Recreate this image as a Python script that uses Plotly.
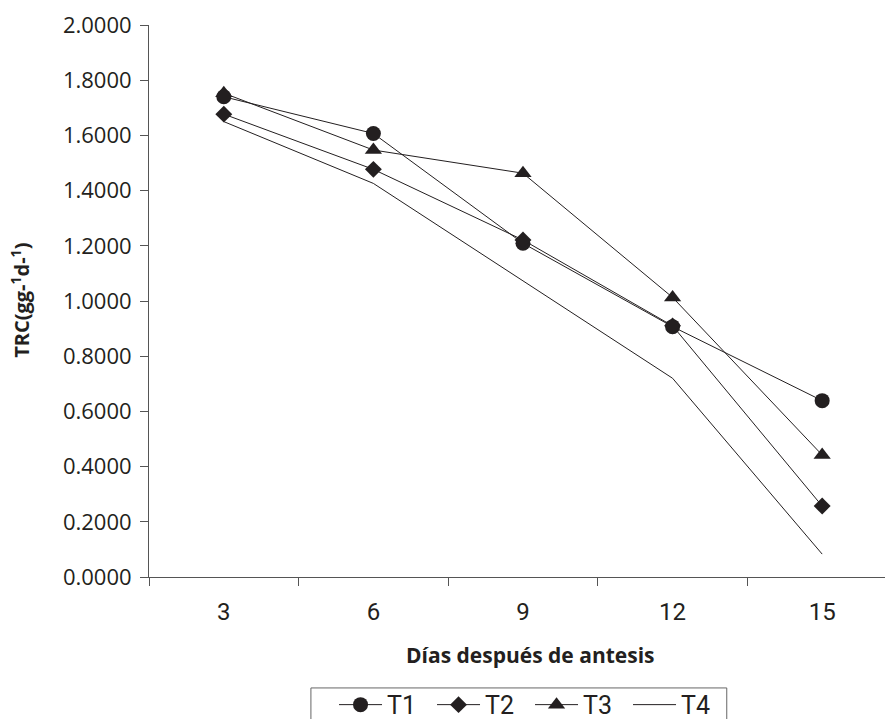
import plotly.graph_objects as go

days = ["3", "6", "9", "12", "15"]
t1 = [1.740, 1.607, 1.209, 0.907, 0.639]
t2 = [1.677, 1.477, 1.221, 0.910, 0.257]
t3 = [1.753, 1.547, 1.463, 1.013, 0.442]
t4 = [1.650, 1.426, 1.073, 0.720, 0.083]
y_ticks = [0.0, 0.2, 0.4, 0.6, 0.8, 1.0, 1.2, 1.4, 1.6, 1.8, 2.0]

ink = "#231f20"
axis_col = "#555555"
fig = go.Figure()
fig.add_trace(go.Scatter(x=days, y=t1, name="T1", mode="lines+markers",
                         line=dict(color=ink, width=1),
                         marker=dict(symbol="circle", size=15, color=ink)))
fig.add_trace(go.Scatter(x=days, y=t2, name="T2", mode="lines+markers",
                         line=dict(color=ink, width=1),
                         marker=dict(symbol="diamond", size=13, color=ink)))
fig.add_trace(go.Scatter(x=days, y=t3, name="T3", mode="lines+markers",
                         line=dict(color=ink, width=1),
                         marker=dict(symbol="triangle-up", size=15, color=ink)))
fig.add_trace(go.Scatter(x=days, y=t4, name="T4", mode="lines",
                         line=dict(color=ink, width=1)))

fig.update_layout(
    width=885, height=719,
    margin=dict(l=149, r=0, t=25, b=142, autoexpand=False),
    paper_bgcolor="white", plot_bgcolor="white",
    font=dict(family="Open Sans", size=16, color=ink),
    showlegend=True,
    legend=dict(orientation="h", x=0.2514, xanchor="left", y=-0.190, yanchor="top",
                borderwidth=0, bgcolor="rgba(0,0,0,0)",
                font=dict(family="Roboto", size=25, color=ink),
                itemwidth=43, entrywidth=40, entrywidthmode="pixels", traceorder="normal"),
    xaxis=dict(type="category", range=[-0.5, 4.42], showline=True, linecolor=axis_col,
               linewidth=1, ticks="outside", tickson="boundaries", ticklen=8,
               tickcolor=axis_col, showgrid=False, zeroline=False,
               tickfont=dict(family="Roboto", size=24, color=ink), ticklabelstandoff=13),
    yaxis=dict(range=[0, 2], tickvals=y_ticks, tickformat=".4f", showline=True,
               linecolor=axis_col, linewidth=1, ticks="outside", ticklen=8,
               tickcolor=axis_col, showgrid=False, zeroline=False,
               tickfont=dict(family="Open Sans", size=22, color=ink), ticklabelstandoff=4),
    shapes=[dict(type="rect", xref="paper", yref="paper",
                 x0=0.220, x1=0.785, y0=-0.201, y1=-0.30,
                 line=dict(color="#666666", width=1), fillcolor="rgba(0,0,0,0)")],
    annotations=[
        dict(text="<b>Días después de antesis</b>", xref="paper", yref="paper",
             x=0.518, y=-0.141, xanchor="center", yanchor="middle", showarrow=False,
             font=dict(family="Open Sans", size=21, color=ink)),
        dict(text="<b>TRC(gg-<sup>1</sup>d-<sup>1</sup>)</b>", xref="paper", yref="paper",
             x=-0.174, y=0.502, xanchor="center", yanchor="middle", showarrow=False,
             textangle=-90, font=dict(family="Open Sans", size=20, color=ink)),
    ],
)

fig.write_html("out.html", config={"displayModeBar": False},
               post_script="document.body.style.margin='0px';")
